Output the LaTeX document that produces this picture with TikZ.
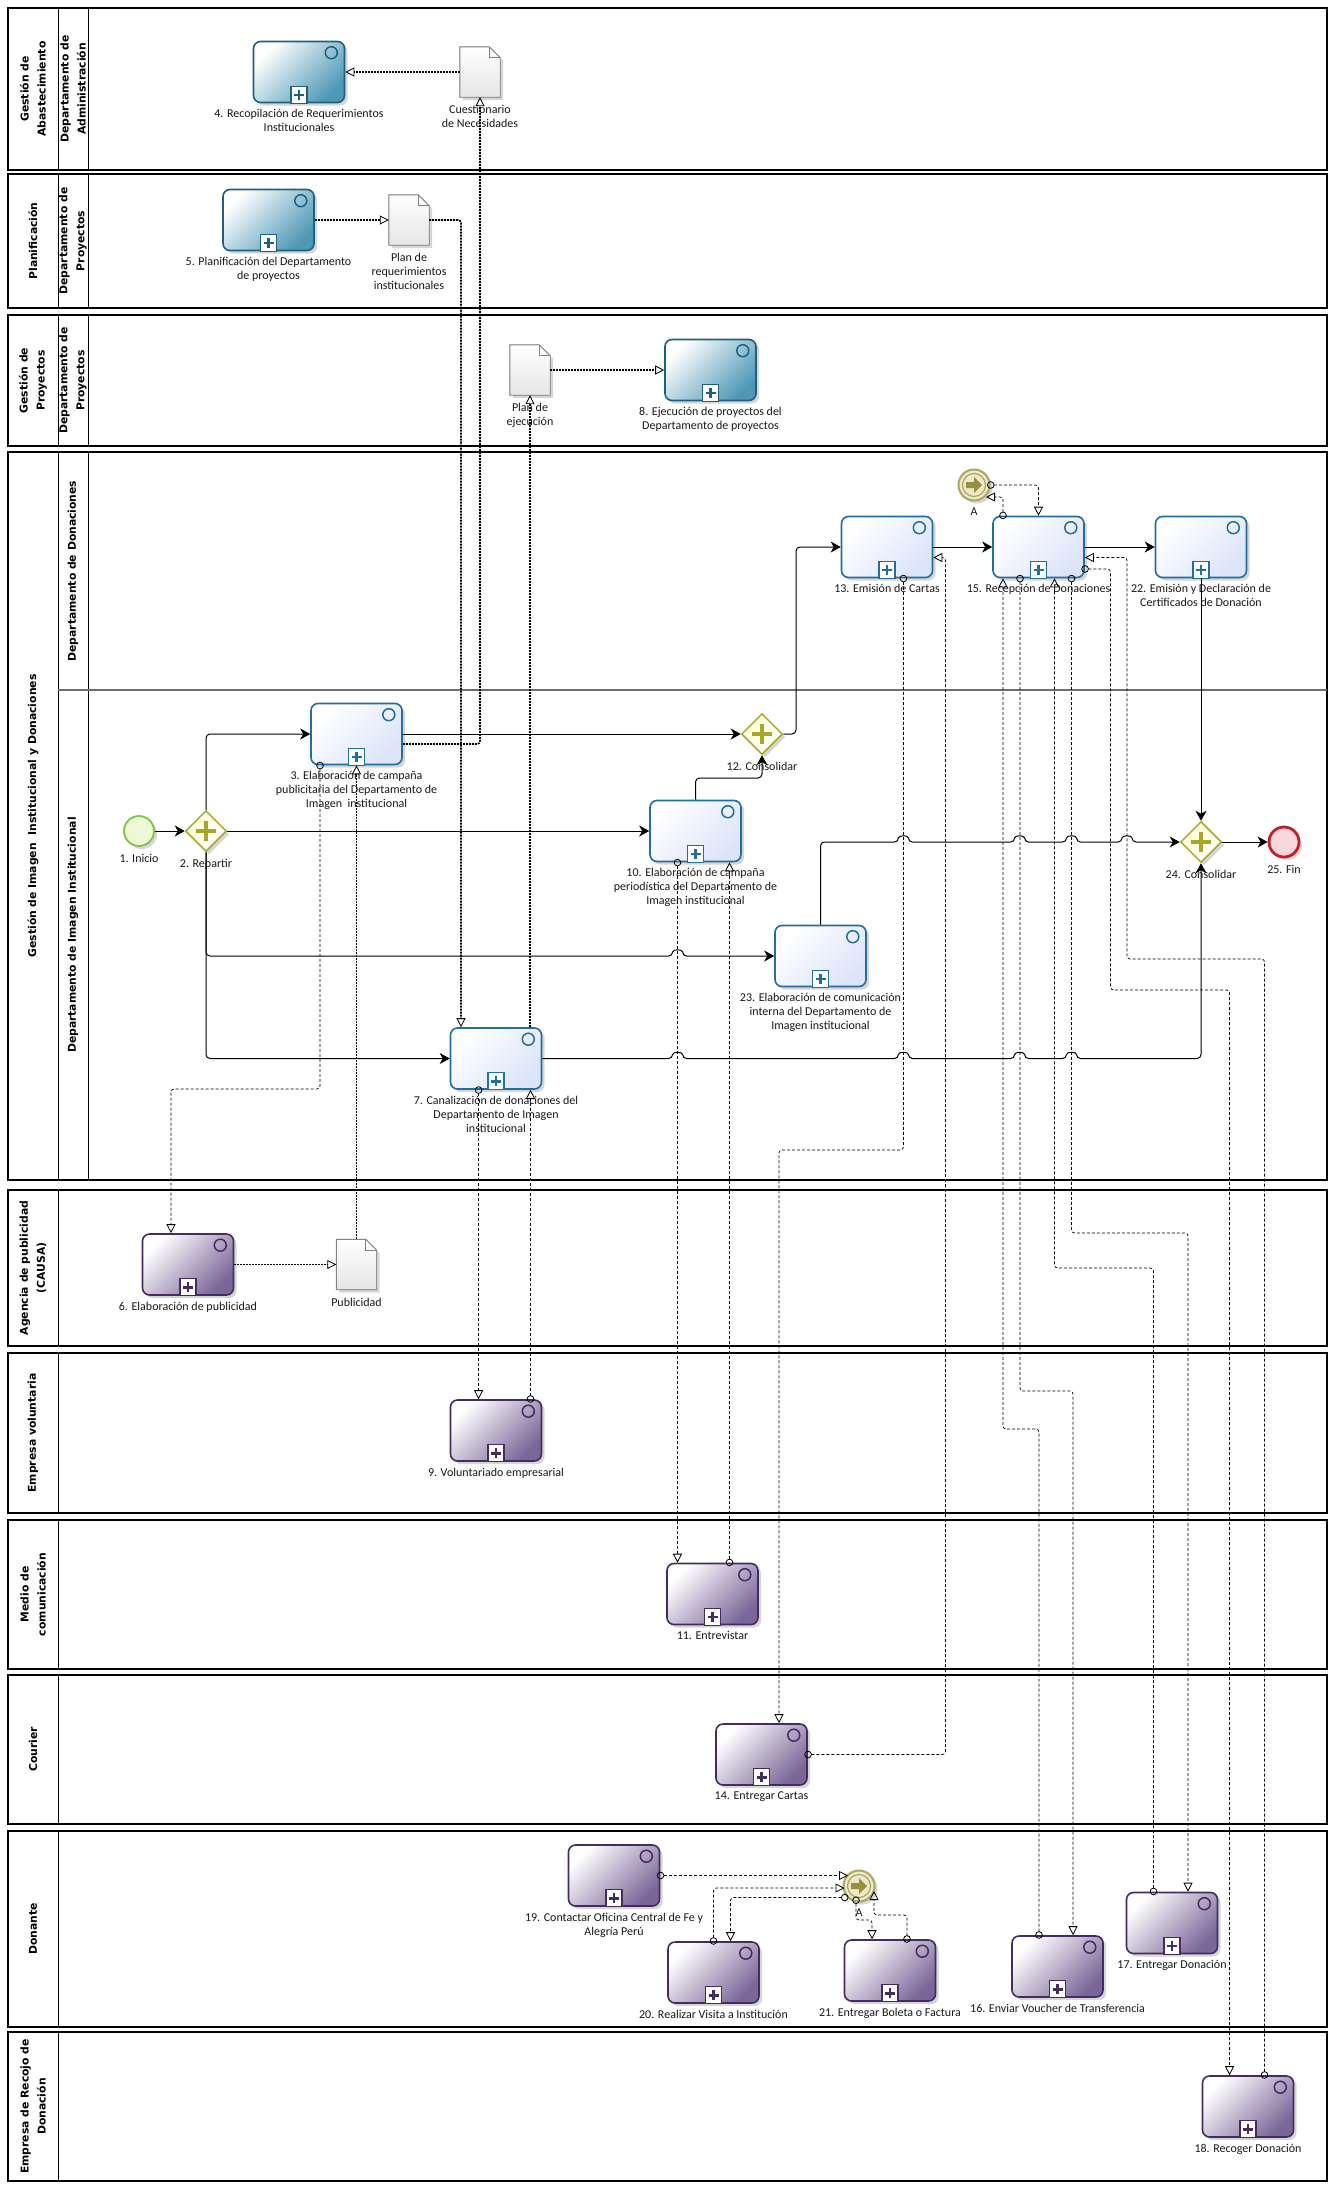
\documentclass[tikz,border=0pt]{standalone}
\usepackage{fontspec}
\newfontfamily\lblfont{Carlito}
\newfontfamily\hdrfont{DejaVu Sans}
\usetikzlibrary{arrows.meta,shapes.geometric,shadows,calc}

\definecolor{blueLine}{RGB}{34,110,158}
\definecolor{blueFill}{RGB}{220,228,250}
\definecolor{tealLine}{RGB}{28,98,128}
\definecolor{tealFill}{RGB}{78,152,182}
\definecolor{purpLine}{RGB}{68,44,98}
\definecolor{purpFill}{RGB}{122,102,152}
\definecolor{gateLine}{RGB}{172,166,40}
\definecolor{gateFill}{RGB}{255,255,214}
\definecolor{startLine}{RGB}{128,196,66}
\definecolor{startFill}{RGB}{236,248,214}
\definecolor{endLine}{RGB}{192,30,42}
\definecolor{endFill}{RGB}{248,214,218}
\definecolor{linkLine}{RGB}{172,166,96}
\definecolor{linkFill}{RGB}{236,233,202}
\definecolor{linkMark}{RGB}{150,144,62}
\definecolor{docLine}{RGB}{130,130,130}
\definecolor{laneGray}{RGB}{110,110,110}

\tikzset{
  shadowed/.style={drop shadow={shadow xshift=3pt, shadow yshift=-3pt, opacity=0.16, fill=black}},
  taskbase/.style={rectangle, rounded corners=7pt, minimum width=91pt, minimum height=61pt,
    inner sep=0pt, line width=1.6pt, shadowed},
  taskblue/.style={taskbase, draw=blueLine, top color=white, bottom color=blueFill, shading angle=45},
  taskteal/.style={taskbase, draw=tealLine, top color=white, bottom color=tealFill, shading angle=45},
  taskpurp/.style={taskbase, draw=purpLine, top color=white, bottom color=purpFill, shading angle=45},
  markblue/.style={draw=blueLine}, markteal/.style={draw=tealLine}, markpurp/.style={draw=purpLine},
  lbl/.style={font=\lblfont\fontsize{12}{14}\selectfont, align=center, inner sep=0pt, text=black!90},
  hdr/.style={font=\hdrfont\bfseries\fontsize{10.8}{17}\selectfont, rotate=90, align=center, inner sep=0pt},
  pool/.style={draw=black, line width=1.6pt},
  divider/.style={draw=black, line width=0.9pt},
  docbox/.style={rectangle, minimum width=40pt, minimum height=50pt, inner sep=0pt},
  docline/.style={draw=docLine, line width=0.9pt},
  gate/.style={diamond, aspect=1, minimum size=41pt, inner sep=0pt, draw=gateLine, line width=1.5pt,
    top color=gateFill, bottom color=white, shading angle=45, shadowed},
  gateplus/.style={draw=gateLine, line width=4.5pt},
  startev/.style={circle, minimum size=30pt, inner sep=0pt, draw=startLine, line width=1.8pt, fill=startFill, shadowed},
  endev/.style={circle, minimum size=30pt, inner sep=0pt, draw=endLine, line width=2.8pt, fill=endFill, shadowed},
  linkev/.style={circle, minimum size=31pt, inner sep=0pt, draw=linkLine, line width=2pt, fill=linkFill, shadowed},
  seq/.style={draw=black, line width=1pt, rounded corners=4pt, -{Stealth[length=10pt,width=11pt,inset=3pt]}},
  msg/.style={draw=black, line width=0.7pt, dash pattern=on 3pt off 2pt, rounded corners=3pt,
    {Circle[open,length=7.5pt,width=7.5pt,line width=0.8pt]}-{Triangle[open,length=9pt,width=9pt,line width=0.8pt]}},
  assoc/.style={draw=black, line width=1.7pt, dash pattern=on 2pt off 1pt, rounded corners=3pt,
    -{Triangle[open,length=9pt,width=9pt,line width=0.8pt]}},
}

% task with loop marker, collapsed sub-process marker and label
\newcommand\mktask[4]{%
  \node[task#3] (#1) at (#2) {};
  \draw[mark#3, line width=1.5pt] ($(#1.north east)+(-14,12)$) circle[radius=6pt];
  \draw[mark#3, fill=white, line width=1.3pt] ($(#1.south)+(-8,-17)$) rectangle ($(#1.south)+(8,0)$);
  \draw[mark#3, line width=2.6pt] ($(#1.south)+(-5,-8.5)$) -- ($(#1.south)+(5,-8.5)$)
    ($(#1.south)+(0,-13.5)$) -- ($(#1.south)+(0,-3.5)$);
  \node[lbl, anchor=north] at ($(#1.south)+(0,6)$) {#4};
}
% data object with folded corner and label
\newcommand\mkdoc[3]{%
  \node[docbox] (#1) at (#2) {};
  \filldraw[docline, top color=white, bottom color=black!10, shadowed]
    (#1.north west) -- ($(#1.north east)+(-11,0)$) -- ($(#1.north east)+(0,11)$)
    -- (#1.south east) -- (#1.south west) -- cycle;
  \draw[docline] ($(#1.north east)+(-11,0)$) -- ($(#1.north east)+(-11,11)$) -- ($(#1.north east)+(0,11)$);
  \node[lbl, anchor=north] at ($(#1.south)+(0,8)$) {#3};
}
% parallel gateway with label
\newcommand\mkgate[3]{%
  \node[gate] (#1) at (#2) {};
  \draw[gateplus] ($(#1.center)+(-10,0)$) -- ($(#1.center)+(10,0)$)
    ($(#1.center)+(0,-10)$) -- ($(#1.center)+(0,10)$);
  \node[lbl, anchor=north] at ($(#1.south)+(0,7)$) {#3};
}
% link event
\newcommand\mklink[2]{%
  \node[linkev] (#1) at (#2) {};
  \draw[linkLine, line width=1.2pt] (#1.center) circle[radius=11.5pt];
  \fill[linkMark] ($(#1.center)+(-8,-3)$) -- ($(#1.center)+(0,-3)$) -- ($(#1.center)+(0,-8)$)
    -- ($(#1.center)+(8,0)$) -- ($(#1.center)+(0,8)$) -- ($(#1.center)+(0,3)$)
    -- ($(#1.center)+(-8,3)$) -- cycle;
  \node[lbl, anchor=north] at ($(#1.south)+(0,6)$) {A};
}

\begin{document}
\begin{tikzpicture}[x=1pt, y=-1pt]
\useasboundingbox (0,0) rectangle (1333,2187);
\fill[white] (0,0) rectangle (1333,2187);

% ---------- pools and lanes ----------
\draw[pool] (8,8) rectangle (1327,170);
\draw[divider] (58,8) -- (58,170) (88,8) -- (88,170);
\node[hdr] (h1a) at (33,89) {Gestión de\\Abastecimiento};
\node[hdr] (h1b) at (73,89) {Departamento de\\Administración};

\draw[pool] (8,174) rectangle (1327,308);
\draw[divider] (58,174) -- (58,308) (88,174) -- (88,308);
\node[hdr] (h2a) at (33,241) {Planificación};
\node[hdr] (h2b) at (73,241) {Departamento de\\Proyectos};

\draw[pool] (8,315) rectangle (1327,446);
\draw[divider] (58,315) -- (58,446) (88,315) -- (88,446);
\node[hdr] (h3a) at (33,380.5) {Gestión de\\Proyectos};
\node[hdr] (h3b) at (73,380.5) {Departamento de\\Proyectos};

\draw[pool] (8,452) rectangle (1327,1180);
\draw[divider] (58,452) -- (58,1180) (88,452) -- (88,1180);
\draw[draw=laneGray, line width=1.2pt] (58,690) -- (1327,690);
\node[hdr] (h4a) at (33,816) {Gestión de Imagen \ Institucional y Donaciones};
\node[hdr] (h4b) at (73,571) {Departamento de Donaciones};
\node[hdr] (h4c) at (73,935) {Departamento de Imagen Institucional};

\draw[pool] (8,1190) rectangle (1327,1346);
\draw[divider] (58,1190) -- (58,1346);
\node[hdr] (h5) at (33,1268) {Agencia de publicidad\\(CAUSA)};

\draw[pool] (8,1353) rectangle (1327,1513);
\draw[divider] (58,1353) -- (58,1513);
\node[hdr] (h6) at (33,1433) {Empresa voluntaria};

\draw[pool] (8,1520) rectangle (1327,1669);
\draw[divider] (58,1520) -- (58,1669);
\node[hdr] (h7) at (33,1594.5) {Medio de\\comunicación};

\draw[pool] (8,1675) rectangle (1327,1824);
\draw[divider] (58,1675) -- (58,1824);
\node[hdr] (h8) at (33,1749.5) {Courier};

\draw[pool] (8,1831) rectangle (1327,2027);
\draw[divider] (58,1831) -- (58,2027);
\node[hdr] (h9) at (33,1929) {Donante};

\draw[pool] (8,2032) rectangle (1327,2181);
\draw[divider] (58,2032) -- (58,2181);
\node[hdr] (h10) at (33,2106.5) {Empresa de Recojo de\\Donación};

% ---------- tasks ----------
\mktask{t4}{299,72}{teal}{4. Recopilación de Requerimientos\\Institucionales}
\mktask{t5}{268.5,220}{teal}{5. Planificación del Departamento\\de proyectos}
\mktask{t8}{710.5,370}{teal}{8. Ejecución de proyectos del\\Departamento de proyectos}
\mktask{t3}{356.5,734}{blue}{3. Elaboración de campaña\\publicitaria del Departamento de\\Imagen \ institucional}
\mktask{t10}{695.5,831}{blue}{10. Elaboración de campaña\\periodística del Departamento de\\Imagen institucional}
\mktask{t23}{820.5,956}{blue}{23. Elaboración de comunicación\\interna del Departamento de\\Imagen institucional}
\mktask{t7}{496,1058.5}{blue}{7. Canalización de donaciones del\\Departamento de Imagen\\institucional}
\mktask{t13}{887,547}{blue}{13. Emisión de Cartas}
\mktask{t15}{1038.5,547}{blue}{15. Recepción de Donaciones}
\mktask{t22}{1201,547}{blue}{22. Emisión y Declaración de\\Certificados de Donación}
\mktask{t6}{188,1264.5}{purp}{6. Elaboración de publicidad}
\mktask{t9}{496,1430.5}{purp}{9. Voluntariado empresarial}
\mktask{t11}{712.5,1594}{purp}{11. Entrevistar}
\mktask{t14}{761.5,1754.5}{purp}{14. Entregar Cartas}
\mktask{t19}{614,1875.5}{purp}{19. Contactar Oficina Central de Fe y\\Alegría Perú}
\mktask{t20}{713.5,1972.5}{purp}{20. Realizar Visita a Institución}
\mktask{t21}{890,1970.5}{purp}{21. Entregar Boleta o Factura}
\mktask{t16}{1057.5,1966.5}{purp}{16. Enviar Voucher de Transferencia}
\mktask{t17}{1172,1923}{purp}{17. Entregar Donación}
\mktask{t18}{1248,2106.5}{purp}{18. Recoger Donación}

% ---------- data objects ----------
\mkdoc{d1}{480,72}{Cuestionario\\de Necesidades}
\mkdoc{d2}{409,220}{Plan de\\requerimientos\\institucionales}
\mkdoc{d3}{530,370}{Plan de\\ejecución}
\mkdoc{d4}{356.5,1264.5}{Publicidad}

% ---------- events and gateways ----------
\node[startev] (e1) at (139,831) {};
\node[lbl, anchor=north] at ($(e1.south)+(0,7)$) {1. Inicio};
\node[endev] (e25) at (1284,842) {};
\node[lbl, anchor=north] at ($(e25.south)+(0,7)$) {25. Fin};
\mkgate{g2}{206,831}{2. Repartir}
\mkgate{g12}{762,734}{12. Consolidar}
\mkgate{g24}{1201,842}{24. Consolidar}
\mklink{a1}{974,485}
\mklink{a2}{859,1886}

% ---------- sequence flows ----------
\draw[seq] (e1.east) -- (g2.west);
\draw[seq] (g2.north) |- (t3.west);
\draw[seq] (g2.east) -- (t10.west);
\draw[seq] (g2.south) -- (206,956) -- (672.6,956) .. controls (672.6,949) and (682.6,949) .. (682.6,956) -- (t23.west);
\draw[seq] (g2.south) -- (206,1058.5) -- (t7.west);
\draw[seq] (t3.east) -- (g12.west);
\draw[seq] (t10.north) -- (695.5,778) -- (762,778) -- (g12.south);
\draw[seq] (g12.east) -- (796,734) -- (796,547) -- (t13.west);
\draw[seq] (t13.east) -- (t15.west);
\draw[seq] (t15.east) -- (t22.west);
\draw[seq] (t22.south) -- (g24.north);
\draw[seq] (t23.north) -- (820.5,842)
  -- (898.4,842) .. controls (898.4,835) and (908.4,835) .. (908.4,842)
  -- (1014.6,842) .. controls (1014.6,835) and (1024.6,835) .. (1024.6,842)
  -- (1066.5,842) .. controls (1066.5,835) and (1076.5,835) .. (1076.5,842)
  -- (1122,842) .. controls (1122,835) and (1132,835) .. (1132,842)
  -- (g24.west);
\draw[seq] (t7.east)
  -- (672.6,1058.5) .. controls (672.6,1051.5) and (682.6,1051.5) .. (682.6,1058.5)
  -- (898.4,1058.5) .. controls (898.4,1051.5) and (908.4,1051.5) .. (908.4,1058.5)
  -- (1014.6,1058.5) .. controls (1014.6,1051.5) and (1024.6,1051.5) .. (1024.6,1058.5)
  -- (1066.5,1058.5) .. controls (1066.5,1051.5) and (1076.5,1051.5) .. (1076.5,1058.5)
  -- (1201,1058.5) -- (g24.south);
\draw[seq] (g24.east) -- (e25.west);

% ---------- data associations ----------
\draw[assoc] (d1.west) -- (t4.east);
\draw[assoc] ($(t3.east)+(0,10)$) -- (480,744) -- (d1.south);
\draw[assoc] (t5.east) -- (d2.west);
\draw[assoc] (d2.east) -- (461,220) -- ($(t7.north)+(-35,0)$);
\draw[assoc] ($(t7.north)+(34,0)$) -- (d3.south);
\draw[assoc] (d3.east) -- (t8.west);
\draw[assoc] (t6.east) -- (d4.west);
\draw[assoc] (d4.north) -- (t3.south);

% ---------- message flows ----------
\draw[msg] ($(t3.south)+(-36.5,-3.5)$) -- (320,1089) -- (171,1089) -- ($(t6.north)+(-17,0)$);
\draw[msg] ($(t7.south)+(-17.4,-3.5)$) -- ($(t9.north)+(-17.4,0)$);
\draw[msg] ($(t9.north)+(34.5,3.5)$) -- ($(t7.south)+(34.5,0)$);
\draw[msg] ($(t10.south)+(-18,-3.5)$) -- ($(t11.north)+(-35,0)$);
\draw[msg] ($(t11.north)+(17,3.5)$) -- ($(t10.south)+(34,0)$);
\draw[msg] ($(t13.south)+(16.4,-3.5)$) -- (903.4,1150) -- (779,1150) -- ($(t14.north)+(17.5,0)$);
\draw[msg] ($(t14.east)+(-3.5,0)$) -- (945.5,1754.5) -- (945.5,557.5) -- ($(t13.east)+(0,10.5)$);
\draw[msg] ($(a1.east)+(-3.5,0)$) -- (1038.5,485) -- (t15.north);
\draw[msg] ($(t15.north)+(-35.5,3.5)$) -- (1003,497) -- ($(a1.center)+(12,12)$);
\draw[msg] ($(t15.south)+(-18.5,-3.5)$) -- (1020,1391) -- (1073,1391) -- ($(t16.north)+(15.5,0)$);
\draw[msg] ($(t16.north)+(-18.5,3.5)$) -- (1039,1429) -- (1003,1429) -- ($(t15.south)+(-35.5,0)$);
\draw[msg] ($(t17.north)+(-18.5,3.5)$) -- (1153.5,1268) -- (1054.5,1268) -- ($(t15.south)+(16,0)$);
\draw[msg] ($(t15.south)+(33,-3.5)$) -- (1071.5,1233) -- (1188,1233) -- ($(t17.north)+(16,0)$);
\draw[msg] ($(t15.east)+(-3.5,22)$) -- (1110.5,569) -- (1110.5,990) -- (1229.5,990) -- ($(t18.north)+(-18.5,0)$);
\draw[msg] ($(t18.north)+(16.5,3.5)$) -- (1264.5,959) -- (1127,959) -- (1127,557.5) -- ($(t15.east)+(0,10.5)$);
\draw[msg] ($(t19.east)+(-3.5,0)$) -- ($(a2.center)+(-11,-10.5)$);
\draw[msg] ($(t20.north)+(0,3.5)$) -- (713.5,1888) -- ($(a2.center)+(-14.5,2)$);
\draw[msg] ($(a2.center)+(-10.5,11.5)$) -- (730.5,1897.5) -- ($(t20.north)+(17,0)$);
\draw[msg] ($(a2.center)+(-3,10.5)$) -- (856,1920) -- (872,1920) -- ($(t21.north)+(-18,0)$);
\draw[msg] ($(t21.north)+(17,3.5)$) -- (907,1915) -- (874,1915) -- ($(a2.center)+(15,5)$);
\end{tikzpicture}
\end{document}
